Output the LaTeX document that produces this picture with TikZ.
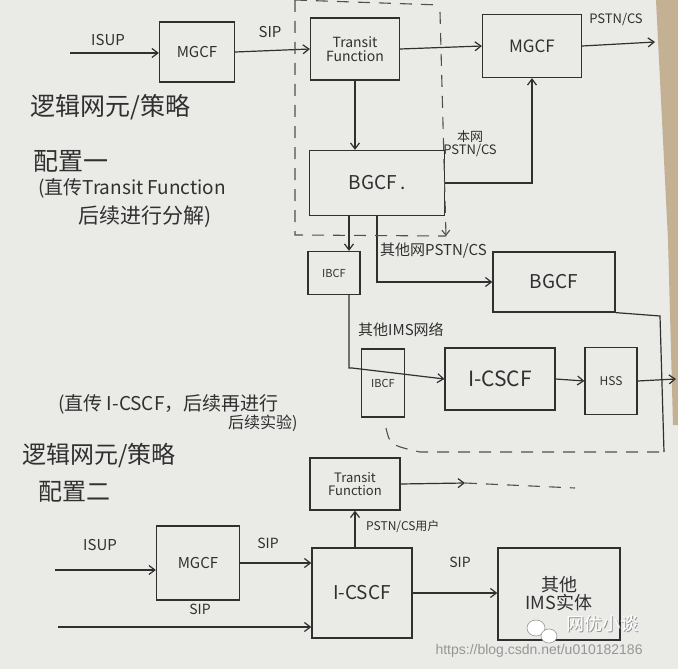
\documentclass[tikz,border=0pt]{standalone}
\usepackage{fontspec}
\setmainfont{Noto Sans CJK SC}
\newfontfamily\urlfont{Liberation Sans}
\usetikzlibrary{arrows.meta,calc}
\definecolor{ink}{RGB}{48,48,48}
\definecolor{paper}{RGB}{234,234,231}
\definecolor{tanedge}{RGB}{196,176,146}
\definecolor{wm}{RGB}{150,150,150}
\newcommand{\fs}[1]{\fontsize{#1}{#1}\selectfont}
\begin{document}
\begin{tikzpicture}[x=1pt,y=-1pt,
  box/.style={draw=ink, line width=1.2pt, inner sep=0pt, align=center, text=ink},
  arr/.style={draw=ink, line width=1.2pt, -{Straight Barb[length=6pt,width=9pt]}},
  ln/.style={draw=ink, line width=1.2pt},
  dsh/.style={draw=ink!85, line width=1.1pt, dash pattern=on 12pt off 9pt},
  lbl/.style={text=ink, inner sep=0pt, align=left}]
\fill[paper] (0,0) rectangle (678,669);
\useasboundingbox (0,0) rectangle (678,669);
\fill[tanedge] (656,0) -- (678,0) -- (678,425) -- (673,425) -- (668,240) -- cycle;

% ---------- top boxes ----------
\node[box, minimum width=75pt, minimum height=60pt, font=\fs{15}] (mgcfA) at (197,52) {MGCF};
\node[box, minimum width=89pt, minimum height=62pt, font=\fs{14}] (tfA) at (355,49) {Transit\\Function};
\node[box, minimum width=99pt, minimum height=63pt, font=\fs{17}] (mgcfB) at (532,46) {MGCF};
\node[box, minimum width=135pt, minimum height=65pt, font=\fs{19}] (bgcfA) at (377,183) {BGCF\,.};
\node[box, minimum width=52pt, minimum height=43pt, font=\fs{11}] (ibcfA) at (334,273) {IBCF};
\node[box, minimum width=122pt, minimum height=60pt, font=\fs{19}] (bgcfB) at (554,282) {BGCF};
\node[box, minimum width=43pt, minimum height=68pt, font=\fs{11}] (ibcfB) at (383,383) {IBCF};
\node[box, minimum width=110pt, minimum height=62pt, font=\fs{21}] (icscfA) at (500,379) {I-CSCF};
\node[box, minimum width=52pt, minimum height=67pt, font=\fs{12}] (hss) at (611,381) {HSS};

% ---------- bottom boxes ----------
\node[box, minimum width=83pt, minimum height=74pt, font=\fs{15}] (mgcfC) at (198,563) {MGCF};
\node[box, minimum width=90pt, minimum height=52pt, font=\fs{13}] (tfB) at (355,484) {Transit\\Function};
\node[box, minimum width=100pt, minimum height=90pt, font=\fs{19}] (icscfB) at (362,593) {I-CSCF};
\node[box, minimum width=122pt, minimum height=92pt, font=\fs{18}] (ims) at (559,594) {其他\\IMS实体};

% ---------- free ends ----------
\coordinate (isupA) at (70,53);
\coordinate (outA) at (655,42);
\coordinate (bend) at (352,368);
\coordinate (rc1) at (660,316);
\coordinate (rc2) at (664,452);
\coordinate (lowL) at (386,428);
\coordinate (lowM) at (420,452);
\coordinate (outB) at (676,379);
\coordinate (dA1) at (295,0);
\coordinate (dA2) at (295,235);
\coordinate (dA3) at (440,12);
\coordinate (dA4) at (446,236);
\coordinate (dTop) at (440,5);
\coordinate (isupC) at (55,570);
\coordinate (sipC) at (58,627);
\coordinate (tfOut) at (465,483);
\coordinate (tfDash) at (575,488);

% ---------- top connectors ----------
\draw[arr] (isupA) -- (mgcfA.west |- isupA);
\draw[arr] (mgcfA.east) -- (tfA.west);
\draw[arr] (tfA.east) -- (mgcfB.west);
\draw[arr] (mgcfB.east) -- (outA);
\draw[arr] (tfA.south) -- (tfA.south |- bgcfA.north);
\draw[arr] (bgcfA.east) -| (mgcfB.south);
\draw[arr] ([xshift=15pt]ibcfA.north |- bgcfA.south) -- ([xshift=15pt]ibcfA.north);
\draw[arr] ([xshift=15pt]ibcfA.south) |- (bend) -- (icscfA.west);
\draw[arr] (bgcfA.south) |- (bgcfB.west);
\draw[ln] (bgcfB.south east) -- (rc1) -- (rc2);
\draw[arr] (icscfA.east) -- (hss.west);
\draw[arr] (hss.east) -- (outB);

% dashed boundaries
\draw[dsh] (dA1) -- (dA2) -- (dA4);
\draw[dsh] (dA1) -- (dTop);
\draw[dsh, -{Straight Barb[length=5pt,width=8pt]}] (dA3) -- (dA4);
\draw[dsh] (lowL) .. controls (390,445) .. (lowM) -- (rc2);

% ---------- bottom connectors ----------
\draw[arr] (isupC) -- (mgcfC.west |- isupC);
\draw[arr] (mgcfC.east) -- (icscfB.west |- mgcfC.east);
\draw[arr] (sipC) -- (icscfB.west |- sipC);
\draw[arr] (icscfB.north -| tfB.south) -- (tfB.south);
\draw[arr] (tfB.east) -- (tfOut);
\draw[dsh] (tfOut) -- (tfDash);
\draw[arr] (icscfB.east) -- (ims.west |- icscfB.east);

% ---------- labels ----------
\node[lbl, font=\fs{15}] (lIsupA) at (108,40) {ISUP};
\node[lbl, font=\fs{15}] (lSipA) at (270,32) {SIP};
\node[lbl, font=\fs{13}] (lPstnA) at (616,20) {PSTN/CS};
\node[lbl, font=\fs{13}, align=center] (lLocal) at (470,144) {本网\\PSTN/CS};
\node[lbl, font=\fs{15}, anchor=west] (lOther) at (380,251) {其他网PSTN/CS};
\node[lbl, font=\fs{15}, anchor=west] (lOtherIms) at (358,330) {其他IMS网络};

\node[lbl, font=\fs{15}] (lIsupC) at (100,545) {ISUP};
\node[lbl, font=\fs{14}] (lSipC1) at (268,543) {SIP};
\node[lbl, font=\fs{14}] (lSipC2) at (200,609) {SIP};
\node[lbl, font=\fs{12}, anchor=west] (lUser) at (366,527) {PSTN/CS用户};
\node[lbl, font=\fs{14}] (lSipC3) at (460,562) {SIP};

% ---------- left notes ----------
\node[lbl, font=\fs{25}, anchor=west] (n1) at (30,107) {逻辑网元/策略};
\node[lbl, font=\fs{25}, anchor=west] (n2) at (33,161) {配置一};
\node[lbl, font=\fs{19}, anchor=west] (n3) at (38,188) {(直传Transit Function};
\node[lbl, font=\fs{21}, anchor=west] (n4) at (78,217) {后续进行分解)};

\node[lbl, font=\fs{19}, anchor=west] (n5) at (58,404) {(直传 I-CSCF，后续再进行};
\node[lbl, font=\fs{16}, anchor=west] (n6) at (228,423) {后续实验)};
\node[lbl, font=\fs{24}, anchor=west] (n7) at (22,456) {逻辑网元/策略};
\node[lbl, font=\fs{24}, anchor=west] (n8) at (38,492) {配置二};

% ---------- watermark ----------
\fill[white, draw=wm, line width=0.6pt] (536,628) ellipse (9pt and 8pt);
\fill[white, draw=wm, line width=0.6pt] (549,636) ellipse (8pt and 7pt);
\node[text=wm, font=\fs{18}, anchor=west] (wm0) at (564,625) {网优小谈};
\node[text=white, font=\fs{18}, anchor=west] (wm1) at (563,624) {网优小谈};
\node[text=wm, font=\urlfont\fs{14}, anchor=west] (wm2) at (432,651) {https://blog.csdn.net/u010182186};
\end{tikzpicture}
\end{document}
